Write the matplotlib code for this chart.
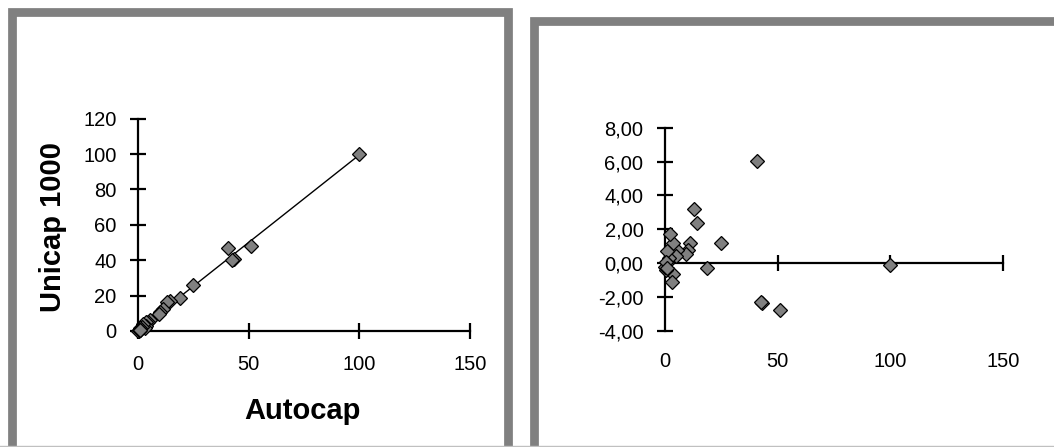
import numpy as np
import matplotlib
matplotlib.use("Agg")
from matplotlib import pyplot as plt
from matplotlib.patches import Rectangle
from matplotlib.lines import Line2D

plt.rcParams['font.family'] = ['Liberation Sans', 'DejaVu Sans']

# values
autocap = [100, 51.0, 40.7, 43.2, 42.5, 24.9, 18.8, 14.4, 13.0, 11.3, 10.0, 9.3,
           5.2, 4.7, 3.7, 3.7, 3.0, 2.2, 1.9, 0.7, 0.7, 0.5, 0.0, 0.3, 1.0]
unicap = [99.9, 48.24, 46.74, 40.84, 40.2, 26.08, 18.49, 16.76, 16.2, 12.52, 10.8, 9.85,
          6.0, 5.13, 4.88, 3.07, 1.88, 3.91, 2.2, 1.45, 0.7, 0.1, -0.2, 0.4, 0.7]
residual = [-0.1, -2.76, 6.04, -2.36, -2.3, 1.18, -0.31, 2.36, 3.2, 1.22, 0.8, 0.55,
            0.8, 0.43, 1.18, -0.63, -1.12, 1.71, 0.3, 0.75, 0.0, -0.4, -0.2, 0.1, -0.3]

x_ticks = [0, 50, 100, 150]
y_ticks_left = [0, 20, 40, 60, 80, 100, 120]
y_ticks_right = [-4, -2, 0, 2, 4, 6, 8]
y_labels_right = ['-4,00', '-2,00', '0,00', '2,00', '4,00', '6,00', '8,00']

W, H = 1054, 447
fig = plt.figure(figsize=(W / 100, H / 100), dpi=100)
fig.patch.set_facecolor('white')


def fx(px):
    return px / W


def fy(py):
    return 1 - py / H


# grey frames around both charts
frame = '#808080'
fig.add_artist(Rectangle((fx(11.8), fy(470)), fx(507.8) - fx(11.8), fy(11.8) - fy(470),
                         transform=fig.transFigure, fill=False, ec=frame, lw=6.3))
fig.add_artist(Rectangle((fx(534), fy(470)), fx(1080) - fx(534), fy(20.5) - fy(470),
                         transform=fig.transFigure, fill=False, ec=frame, lw=6.3))
fig.add_artist(Line2D([0, 1], [fy(446), fy(446)], transform=fig.transFigure,
                      color='#c0c0c0', lw=1))

mk = dict(marker='D', ms=7.5, mfc='#808080', mec='black', mew=0.9, ls='none',
          clip_on=False, zorder=5)
tick_kw = dict(direction='inout', length=11, width=1.6, labelsize=14.5, colors='black')

# ---- left: Unicap 1000 vs Autocap
ax1 = fig.add_axes([fx(138), fy(331), fx(470) - fx(138), fy(118.7) - fy(331)])
ax1.set_xlim(0, 150)
ax1.set_ylim(0, 120)
for s in ['top', 'right']:
    ax1.spines[s].set_visible(False)
for s in ['left', 'bottom']:
    ax1.spines[s].set_linewidth(1.6)
ax1.set_xticks(x_ticks)
ax1.set_yticks(y_ticks_left)
ax1.tick_params(axis='x', pad=12, **tick_kw)
ax1.tick_params(axis='y', pad=10, **tick_kw)
k, b = np.polyfit(autocap, unicap, 1)
xl = np.array([min(autocap), max(autocap)])
ax1.plot(xl, k * xl + b, color='black', lw=1, zorder=3)
ax1.plot(autocap, unicap, **mk)
fig.text(fx(53), fy(227), 'Unicap 1000', rotation=90, ha='center', va='center',
         fontsize=21, fontweight='bold')
fig.text(fx(302), fy(411), 'Autocap', ha='center', va='center',
         fontsize=21, fontweight='bold')

# ---- right: residuals
ax2 = fig.add_axes([fx(665), fy(331), fx(1002.7) - fx(665), fy(127.7) - fy(331)])
ax2.set_xlim(0, 150)
ax2.set_ylim(-4, 8)
for s in ['top', 'right', 'bottom']:
    ax2.spines[s].set_visible(False)
ax2.spines['left'].set_linewidth(1.6)
ax2.set_xticks(x_ticks)
ax2.tick_params(axis='x', length=0, pad=15, labelsize=14.5)
ax2.set_yticks(y_ticks_right)
ax2.set_yticklabels(y_labels_right)
ax2.tick_params(axis='y', pad=10, **tick_kw)
zero = ax2.secondary_xaxis(1 / 3)
zero.set_xticks(x_ticks)
zero.tick_params(axis='x', direction='inout', length=11, width=1.6, labelbottom=False,
                 labeltop=False)
zero.spines['bottom'].set_linewidth(1.6)
zero.spines['top'].set_linewidth(1.6)
ax2.plot(autocap, residual, **mk)

fig.savefig('out.png', dpi=100, facecolor='white')
